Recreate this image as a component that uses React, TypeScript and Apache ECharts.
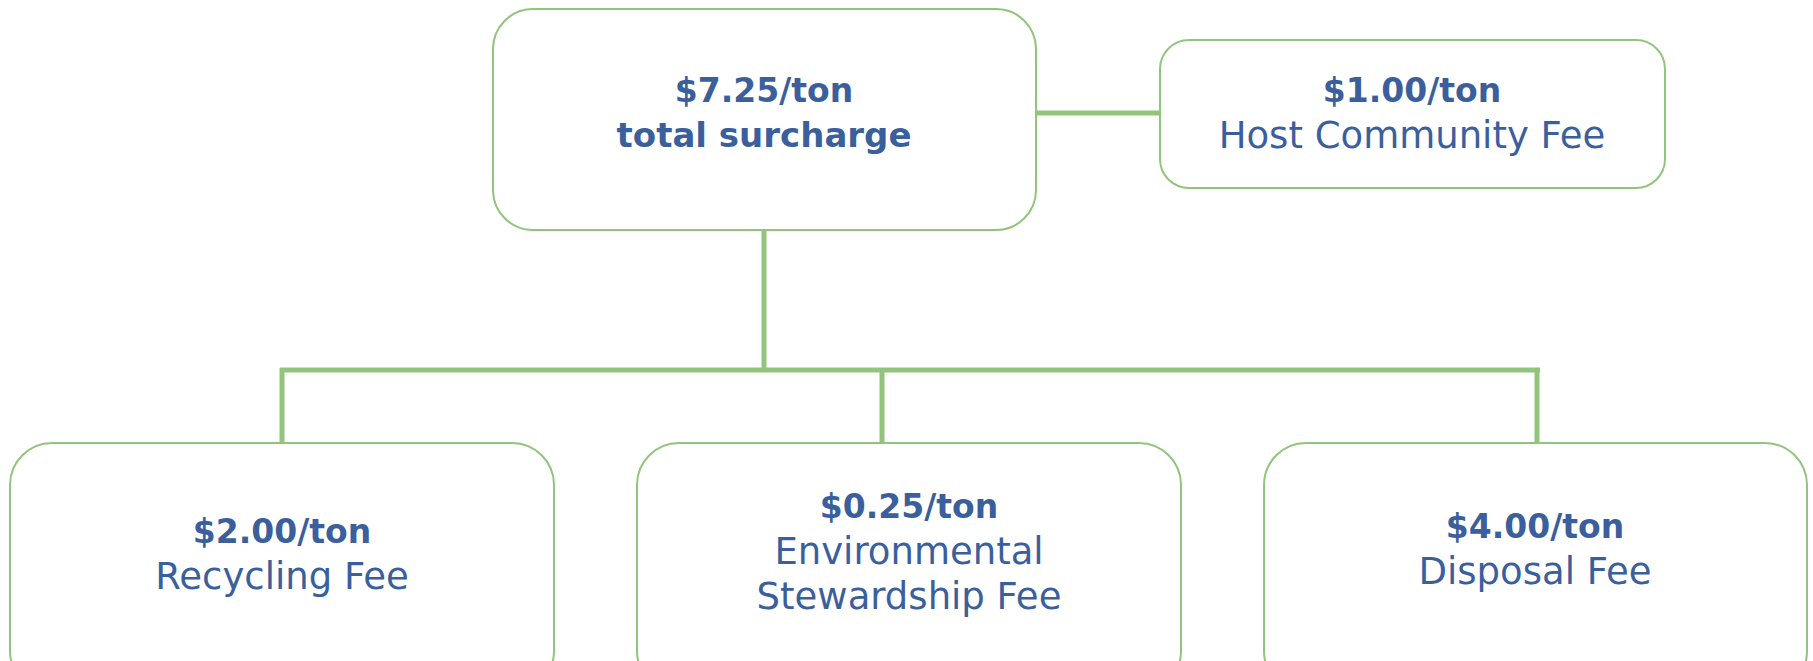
import React, { useEffect, useRef } from "react";
import * as echarts from "echarts";

const amounts = ["$7.25/ton", "$1.00/ton", "$2.00/ton", "$0.25/ton", "$4.00/ton"];
const labels = [["total surcharge"], ["Host Community Fee"], ["Recycling Fee"], ["Environmental", "Stewardship Fee"], ["Disposal Fee"]];
const boldLabel = [true, false, false, false, false];

const GREEN = "#93C47D";
const BLUE = "#3B5F9C";
const FONT = "'DejaVu Sans', sans-serif";

// layout boxes: x, y, w, h, r, text center x, first-line center y
const boxes = [
  { x: 493, y: 9, w: 543, h: 221, r: 40, cx: 764, ty: 90 },
  { x: 1160, y: 40, w: 505, h: 148, r: 29, cx: 1412, ty: 90 },
  { x: 10, y: 443, w: 544, h: 250, r: 42, cx: 282, ty: 531 },
  { x: 637, y: 443, w: 544, h: 250, r: 42, cx: 909, ty: 506 },
  { x: 1264, y: 443, w: 543, h: 250, r: 42, cx: 1535, ty: 526 },
];
const LINE_GAP = 45;

export default function App() {
  const ref = useRef<HTMLDivElement>(null);
  useEffect(() => {
    document.body.style.margin = "0";
    const chart = echarts.init(ref.current!, null, { renderer: "svg" });
    const elements: any[] = [];
    const conn = (x1: number, y1: number, x2: number, y2: number) =>
      elements.push({ type: "line", shape: { x1, y1, x2, y2 }, style: { stroke: GREEN, lineWidth: 5 }, z: 1 });
    conn(1036, 113, 1160, 113);
    conn(764, 230, 764, 370);
    conn(280, 370, 1540, 370);
    conn(282, 368, 282, 443);
    conn(882, 370, 882, 443);
    conn(1537, 368, 1537, 443);
    boxes.forEach((b, i) => {
      elements.push({
        type: "rect",
        shape: { x: b.x, y: b.y, width: b.w, height: b.h, r: b.r },
        style: { fill: "#fff", stroke: GREEN, lineWidth: 2 },
        z: 2,
      });
      elements.push({
        type: "text",
        x: b.cx,
        y: b.ty,
        style: { text: amounts[i], fill: BLUE, font: `bold 33px ${FONT}`, textAlign: "center", textVerticalAlign: "middle" },
        z: 3,
      });
      labels[i].forEach((t, j) => {
        elements.push({
          type: "text",
          x: b.cx,
          y: b.ty + LINE_GAP * (j + 1),
          style: {
            text: t,
            fill: BLUE,
            font: boldLabel[i] ? `bold 34px ${FONT}` : `37px ${FONT}`,
            textAlign: "center",
            textVerticalAlign: "middle",
          },
          z: 3,
        });
      });
    });
    chart.setOption({ animation: false, backgroundColor: "#fff", graphic: { elements } });
    return () => chart.dispose();
  }, []);
  return <div ref={ref} style={{ position: "fixed", left: 0, top: 0, width: 1813, height: 661 }} />;
}
